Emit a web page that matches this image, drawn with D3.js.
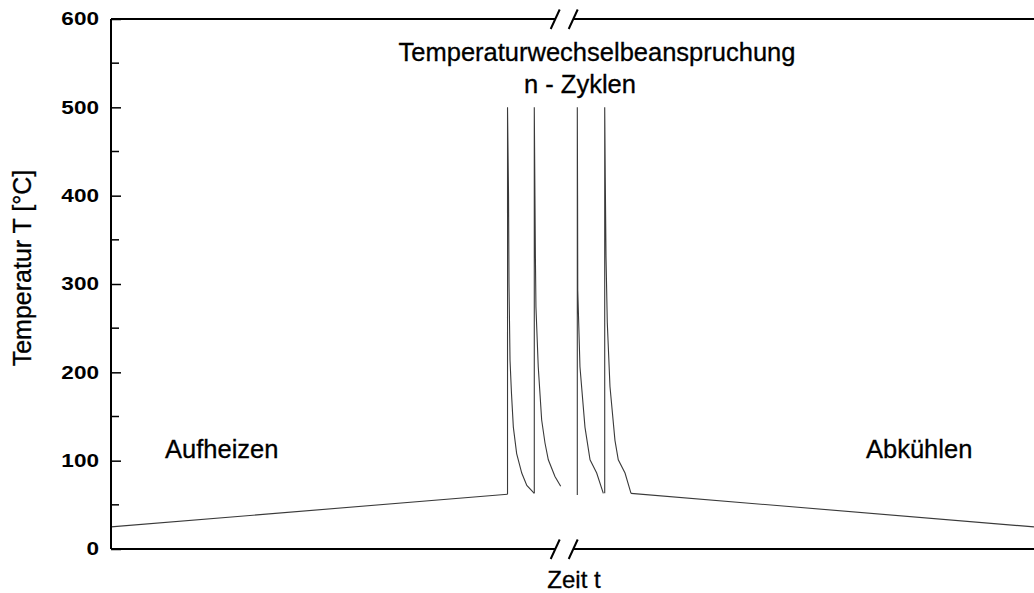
<!DOCTYPE html>
<html>
<head>
<meta charset="utf-8">
<script src="https://cdn.jsdelivr.net/npm/d3@7"></script>
<style>
  body { margin: 0; background: #fff; }
  svg { display: block; font-family: 'Liberation Sans', Arial, sans-serif; }
</style>
</head>
<body>
<svg id="chart" width="1034" height="593"></svg>
<script>
// time in arbitrary units (0..1000), temperature in °C
const heating = [[0, 25], [429.6, 62]]
const cycle1 = [[429.6, 62], [429.6, 500], [430.7, 400], [431.2, 300], [432.3, 214], [433.9, 176], [435.9, 138], [439.5, 108], [445, 86], [450.5, 72], [458.6, 63]]
const cycle2 = [[458.6, 63], [458.6, 500], [459.3, 400], [459.8, 331], [460.4, 274], [462.9, 206], [466.6, 146], [470.2, 120], [473.8, 101], [481, 82], [487.2, 71]]
const cycle3 = [[505.2, 61], [505.2, 500], [505.5, 400], [505.7, 293], [508.1, 206], [513.5, 138], [519, 101], [526.2, 86], [533.4, 63]]
const cycle4 = [[534.9, 63], [534.9, 500], [535.5, 420], [536.3, 331], [537.7, 256], [540.6, 184], [546, 123], [549.6, 101], [556.9, 86], [563.4, 63]]
const cooling = [[563.4, 63], [1000, 25]]
const timeBreak = 491

const yTicks = [0, 100, 200, 300, 400, 500, 600]
const yMinorTicks = [50, 150, 250, 350, 450, 550]

const margins = { top: 19, right: 0, bottom: 44, left: 111 }
const width = 1034 - margins.left - margins.right
const height = 593 - margins.top - margins.bottom

const svg = d3.select('#chart')
const g = svg.append('g').attr('transform', `translate(${margins.left},${margins.top})`)

const x = d3.scaleLinear().domain([0, 1000]).range([0, width])
const y = d3.scaleLinear().domain([0, 600]).range([height, 0])

const line = d3.line().x(d => x(d[0])).y(d => y(d[1]))

// temperature curve
;[heating, cycle1, cycle2, cycle3, cycle4, cooling].forEach(seg => {
  g.append('path').datum(seg)
    .attr('d', line)
    .style('fill', 'none').style('stroke', '#3a3a3a').style('stroke-width', 1.1)
})

// left axis, ticks pointing inwards
const yAxis = g.append('g').attr('class', 'axis axis--y')
  .call(d3.axisLeft(y).tickValues(yTicks).tickSize(-10).tickPadding(13))
yAxis.select('.domain').remove()
yAxis.selectAll('line').style('stroke', '#000').style('stroke-width', 1.5)
yAxis.selectAll('text')
  .style('font-family', "'Liberation Sans', Arial, sans-serif")
  .style('font-size', '18.5px').style('font-weight', 'bold').style('fill', '#000')
  .attr('transform', 'scale(1.22,1)').attr('x', -12 / 1.22)

g.append('g').selectAll('line').data(yMinorTicks).enter().append('line')
  .attr('x1', 0).attr('x2', 8).attr('y1', d => y(d)).attr('y2', d => y(d))
  .style('stroke', '#000').style('stroke-width', 1.5)

g.append('line').attr('x1', 0).attr('x2', 0).attr('y1', 0).attr('y2', height)
  .style('stroke', '#000').style('stroke-width', 2)

// top and bottom frame with axis break
const bx = x(timeBreak)
;[0, height].forEach(yy => {
  g.append('line').attr('x1', 0).attr('x2', bx - 9).attr('y1', yy).attr('y2', yy)
    .style('stroke', '#000').style('stroke-width', 2)
  g.append('line').attr('x1', bx + 9).attr('x2', width).attr('y1', yy).attr('y2', yy)
    .style('stroke', '#000').style('stroke-width', 2)
  ;[-9, 9].forEach(dx => {
    g.append('line')
      .attr('x1', bx + dx - 4.5).attr('y1', yy + 10)
      .attr('x2', bx + dx + 4.5).attr('y2', yy - 9.5)
      .style('stroke', '#000').style('stroke-width', 2)
  })
})

// labels
const label = (txt, tx, ty, anchor) => svg.append('text')
  .attr('x', tx).attr('y', ty).style('text-anchor', anchor)
  .style('font-size', '25.5px').style('fill', '#000')
  .style('stroke', '#000').style('stroke-width', 0.3).text(txt)

label('Temperaturwechselbeanspruchung', 597, 61, 'middle')
label('n - Zyklen', 580, 93, 'middle')
label('Aufheizen', 165, 458, 'start')
label('Abkühlen', 866, 458, 'start')
label('Zeit t', 574, 588, 'middle').style('font-size', '24px')

svg.append('text')
  .attr('transform', 'translate(31,268) rotate(-90)')
  .style('text-anchor', 'middle').style('font-size', '25px').style('fill', '#000')
  .style('stroke', '#000').style('stroke-width', 0.3)
  .text('Temperatur T [°C]')
</script>
</body>
</html>
